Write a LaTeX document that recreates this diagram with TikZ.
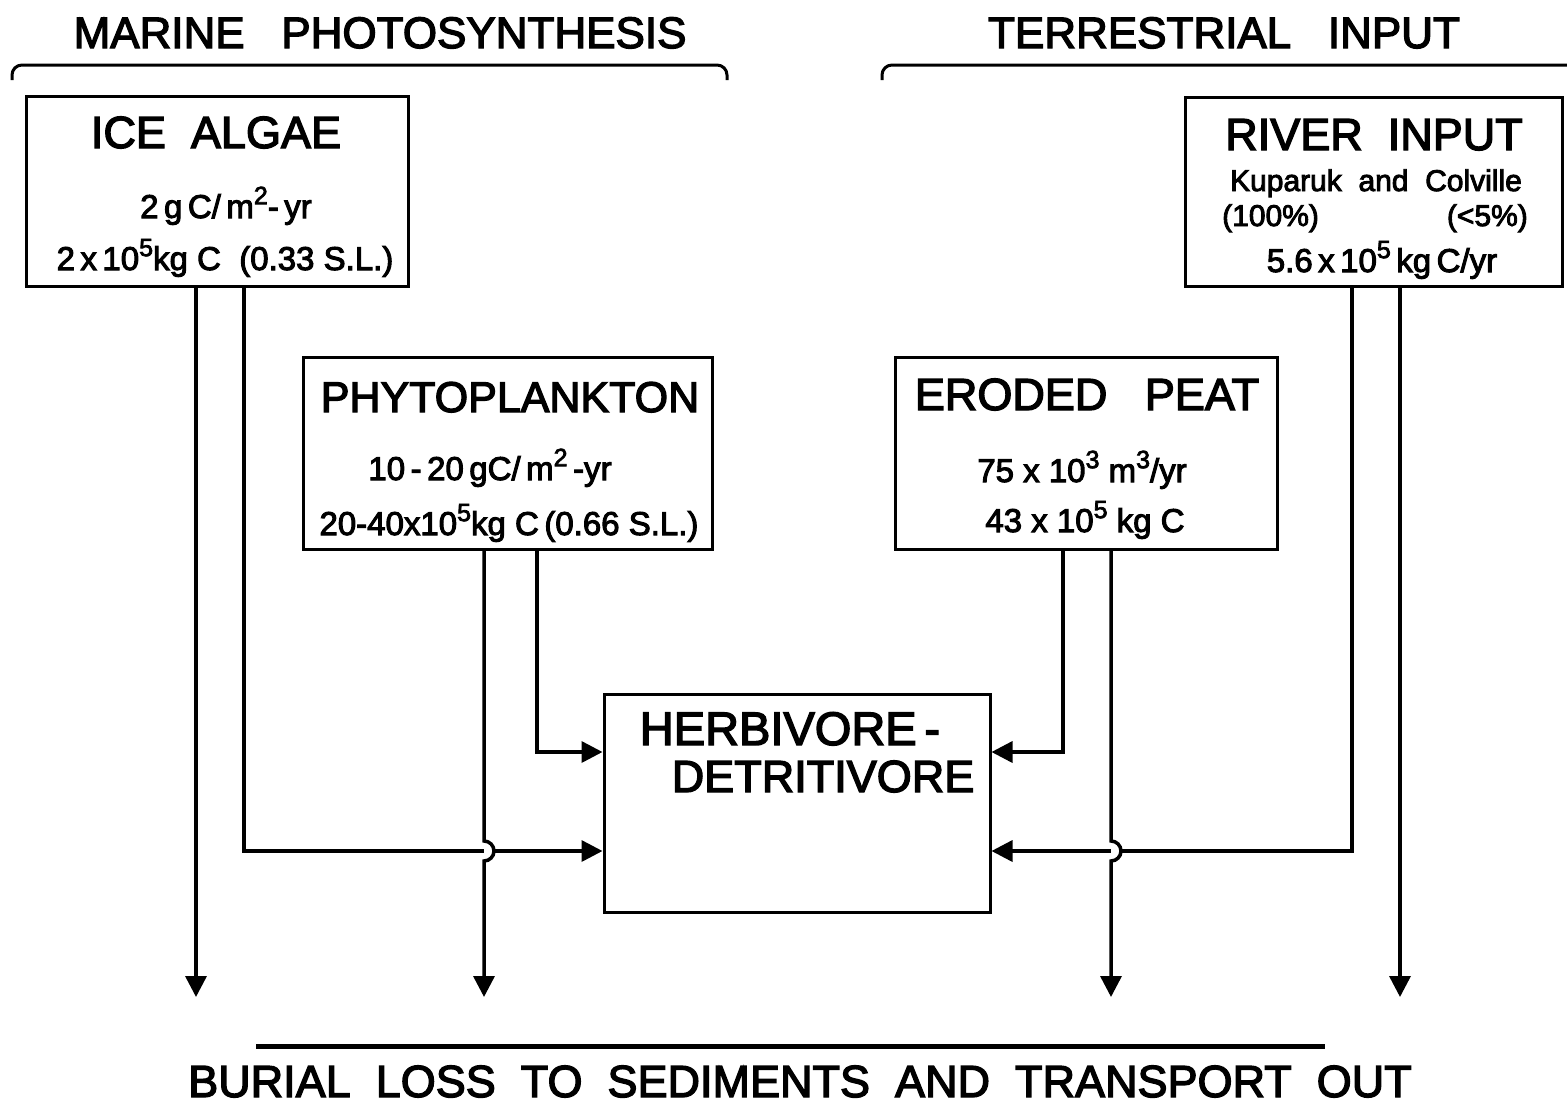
\documentclass[tikz,border=0pt]{standalone}
\usepackage{fontspec}
\setmainfont{Liberation Sans}[FakeBold=3]
\usetikzlibrary{arrows.meta}
\newcommand\fsz[1]{\fontsize{#1}{#1}\selectfont}
\newcommand\spr[1]{\raisebox{0.42em}{\fontsize{25}{25}\selectfont #1}}
\begin{document}
\begin{tikzpicture}[x=1pt,y=-1pt,
  box/.style={draw,line width=3pt,inner sep=0pt},
  lbl/.style={anchor=base,inner sep=0pt},
  ttl/.style={lbl,font=\fsz{44}},
  btl/.style={lbl,font=\fsz{45}},
  val/.style={lbl,font=\fsz{33}},
  sml/.style={lbl,font=\fsz{30}},
  conn/.style={line width=3.5pt},
  arr/.style={conn,-{Triangle[length=21pt,width=21pt]}},
  brace/.style={line width=3pt,rounded corners=10pt}]
\useasboundingbox (0,0) rectangle (1567,1106);

% group titles and braces
\node[ttl] (tmar) at (380,48) {MARINE\ \ \ PHOTOSYNTHESIS};
\node[ttl] (tter) at (1224,48) {TERRESTRIAL\ \ \ INPUT};
\draw[brace] (12,80) -- (12,65) -- (727,65) -- (727,80);
\draw[brace] (882,80) -- (882,65) -- (1575,65);

% boxes
\node[box,minimum width=382pt,minimum height=190pt] (ice) at (217,191) {};
\node[box,minimum width=377pt,minimum height=189pt] (river) at (1373.5,191.5) {};
\node[box,minimum width=409pt,minimum height=192pt] (phyto) at (507.5,453) {};
\node[box,minimum width=382pt,minimum height=192pt] (peat) at (1086,453) {};
\node[box,minimum width=386pt,minimum height=218pt] (herb) at (797,803) {};

% box texts
\node[btl] (iceT) at (216,148) {ICE\ \ ALGAE};
\node[val] (ice1) at (226,218) {2\,g\,C/\,m\spr{2}-\,yr};
\node[val] (ice2) at (225,270) {2\,x\,10\spr{5}kg C\ \ (0.33 S.L.)};

\node[btl] (rivT) at (1374,150) {RIVER\ \ INPUT};
\node[sml] (riv1) at (1376,191) {Kuparuk\ \ and\ \ Colville};
\node[sml,anchor=base west] (riv2) at (1222,226) {(100\%)};
\node[sml,anchor=base east] (riv3) at (1528,226) {(<5\%)};
\node[val] (riv4) at (1382,272) {5.6\,x\,10\spr{5}\,kg\,C/yr};

\node[btl,font=\fsz{43}] (phyT) at (510,412) {PHYTOPLANKTON};
\node[val] (phy1) at (490,480) {10\,-\,20\,gC/\,m\spr{2}\,-yr};
\node[val] (phy2) at (509,535) {20-40x10\spr{5}kg C\,(0.66 S.L.)};

\node[btl] (peaT) at (1087,410) {ERODED\ \ \ PEAT};
\node[val] (pea1) at (1082,482) {75 x 10\spr{3} m\spr{3}/yr};
\node[val] (pea2) at (1085,532) {43 x 10\spr{5} kg C};

\node[btl,font=\fsz{47}] (herT1) at (790,745) {HERBIVORE\,-};
\node[btl] (herT2) at (823,792) {DETRITIVORE};

% connector coordinates
\coordinate (b1) at (196,997);
\coordinate (i2) at (244,851);
\coordinate (b2) at (484,997);
\coordinate (p2) at (537,752);
\coordinate (e2) at (1063,752);
\coordinate (b3) at (1111,997);
\coordinate (r1) at (1352,851);
\coordinate (b4) at (1400,997);

% connectors
\draw[arr] (ice.south -| b1) -- (b1);
\draw[arr] (ice.south -| i2) -- (i2) -- (herb.west |- i2);
\draw[arr] (phyto.south -| p2) -- (p2) -- (herb.west |- p2);
\draw[arr] (peat.south -| e2) -- (e2) -- (herb.east |- e2);
\draw[arr] (river.south -| r1) -- (r1) -- (herb.east |- r1);
\draw[arr] (river.south -| b4) -- (b4);

% hops
\fill[white] (484,841) arc[start angle=-90,end angle=90,radius=10] -- cycle;
\fill[white] (1111,841) arc[start angle=-90,end angle=90,radius=10] -- cycle;
\draw[arr] (phyto.south -| b2) -- (484,841) arc[start angle=-90,end angle=90,radius=10] -- (b2);
\draw[arr] (peat.south -| b3) -- (1111,841) arc[start angle=-90,end angle=90,radius=10] -- (b3);

% bottom
\coordinate (bl) at (256,1046);
\coordinate (br) at (1325,1046);
\draw[line width=5pt] (bl) -- (br);
\node[lbl,font=\fsz{45}] (bot) at (800,1097) {BURIAL\ \ LOSS\ \ TO\ \ SEDIMENTS\ \ AND\ \ TRANSPORT\ \ OUT};
\end{tikzpicture}
\end{document}
